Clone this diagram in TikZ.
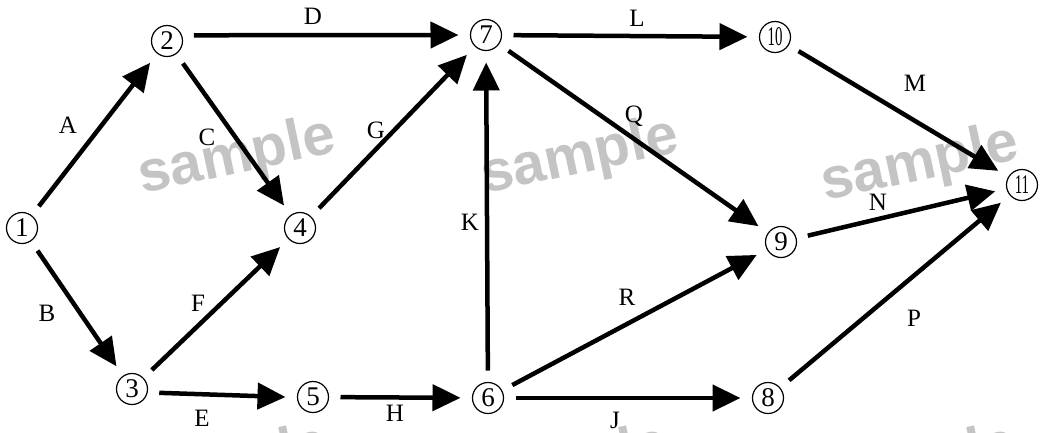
\documentclass[tikz,border=0pt]{standalone}
\usepackage{fontspec}
\setmainfont{Liberation Serif}
\newfontfamily\wmfont{Liberation Sans}
\usetikzlibrary{arrows.meta}
\definecolor{wmgray}{HTML}{C4C4C4}
\begin{document}
\begin{tikzpicture}[x=1pt,y=-1pt,
  vtx/.style={circle,draw,line width=1.2pt,minimum size=31pt,inner sep=0pt,
              outer sep=12pt,font=\fontsize{27}{27}\selectfont},
  edge/.style={line width=4.5pt,-{Triangle[length=28pt,width=26pt]}},
  lbl/.style={inner sep=0pt,font=\fontsize{25}{25}\selectfont},
  wm/.style={text=wmgray,font=\wmfont\bfseries\fontsize{58}{58}\selectfont,rotate=12,inner sep=0pt}]
\useasboundingbox (0,0) rectangle (1042,432);
% watermarks
\node[wm] (w1) at (237,158) {sample};
\node[wm] (w2) at (580,158) {sample};
\node[wm] (w3) at (920,165) {sample};
\node[wm] (w4) at (230,466) {sample};
\node[wm] (w5) at (570,466) {sample};
\node[wm] (w6) at (918,466) {sample};
% events
\node[vtx] (n1)  at (22,228)  {1};
\node[vtx] (n2)  at (167,41)  {2};
\node[vtx] (n3)  at (132,389) {3};
\node[vtx] (n4)  at (300,228) {4};
\node[vtx] (n5)  at (313,397) {5};
\node[vtx] (n6)  at (488,398) {6};
\node[vtx] (n7)  at (486,35)  {7};
\node[vtx] (n8)  at (768,398) {8};
\node[vtx] (n9)  at (781,242) {9};
\node[vtx] (n10) at (775,37)  {\scalebox{0.55}[1]{10}};
\node[vtx] (n11) at (1022,185) {\scalebox{0.55}[1]{11}};
% activities
\draw[edge] (n1) -- (n2);
\draw[edge] (n1) -- (n3);
\draw[edge] (n2) -- (n4);
\draw[edge] (n2.12) -- (n7.west);
\draw[edge] (n3.-8) -- (n5.west);
\draw[edge] (n3) -- (n4);
\draw[edge] (n4) -- (n7);
\draw[edge] (n5) -- (n6);
\draw[edge] (n6) -- (n7);
\draw[edge] (n6) -- (n8);
\draw[edge] (n6) -- (n9);
\draw[edge] (n7) -- (n10);
\draw[edge] (n7) -- (n9);
\draw[edge] (n10) -- (n11);
\draw[edge] (n9) -- (n11);
\draw[edge] (n8) -- (n11);
% activity labels
\node[lbl] (la) at (68,125)  {A};
\node[lbl] (lb) at (47,313)  {B};
\node[lbl] (lc) at (207,137) {C};
\node[lbl] (ld) at (313,16)  {D};
\node[lbl] (le) at (202,418) {E};
\node[lbl] (lf) at (198,303) {F};
\node[lbl] (lg) at (376,130) {G};
\node[lbl] (lh) at (395,413) {H};
\node[lbl] (lk) at (470,222) {K};
\node[lbl] (ll) at (637,18)  {L};
\node[lbl] (lq) at (634,116) {Q};
\node[lbl] (lm) at (915,83)  {M};
\node[lbl] (ln) at (878,202) {N};
\node[lbl] (lr) at (627,297) {R};
\node[lbl] (lp) at (914,318) {P};
\node[lbl] (lj) at (615,420) {J};
\end{tikzpicture}
\end{document}
